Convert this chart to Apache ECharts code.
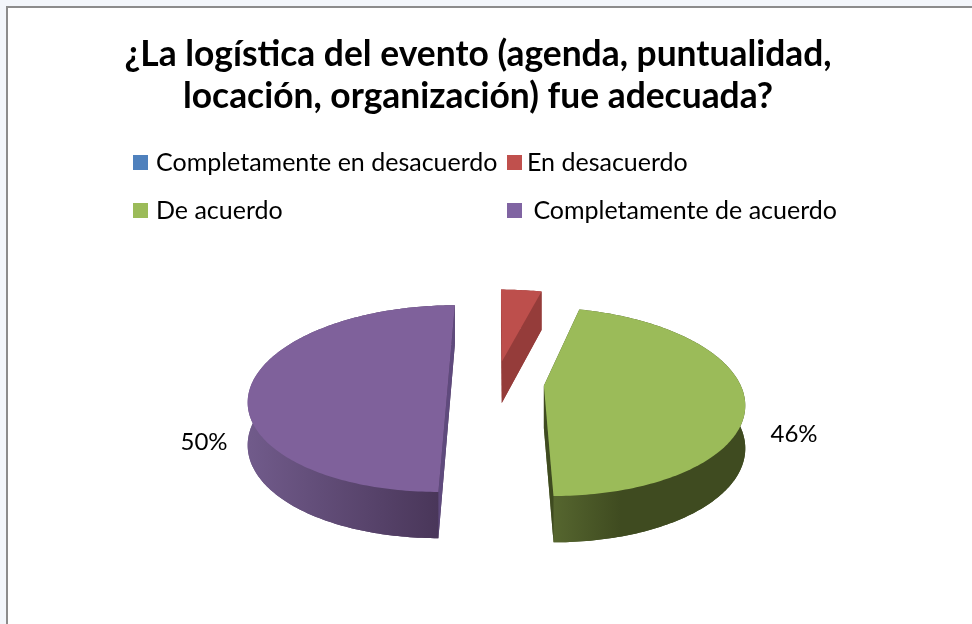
<!DOCTYPE html>
<html>
<head>
<meta charset="utf-8">
<style>
  html, body { margin: 0; padding: 0; background: #f3f6fb; }
  #main { width: 972px; height: 624px; }
</style>
<script src="https://cdn.jsdelivr.net/npm/echarts@6/dist/echarts.min.js"></script>
</head>
<body>
<div id="main"></div>
<script>
const titleText = '¿La logística del evento (agenda, puntualidad,\nlocación, organización) fue adecuada?';
const categories = ['Completamente en desacuerdo', 'En desacuerdo', 'De acuerdo', 'Completamente de acuerdo'];
const values = [0, 4, 46, 50];
const colors = ['#4f81bd', '#c0504d', '#9bbb59', '#8064a2'];
const topColors = ['#4f81bd', '#bd4f4c', '#9bbb59', '#7f619b'];
const sideColors = ['#3a5f8c', '#953c3a', '#3f4b20', '#5f4a7d'];
const wallStops = [
    null,
    [[0, '#953c3a'], [1, '#953c3a']],
    [[0, '#56662f'], [0.35, '#3f4b20'], [1, '#3f4b20']],
    [[0, '#715b8b'], [1, '#493659']]
];
const wallSpan = [null, [500, 545], [553, 746], [247, 440]];

// plano del pastel y perspectiva
const cx = 496, cy = 383, R = 196, tilt = 0.463, persp = 0.167, explode = 48;
const total = values.reduce((a, b) => a + b, 0);

function project(X, Z) {
    const s = 1 / (1 - persp * Z / R);
    const h = 21 + 21 * s;
    return { top: [cx + X * s, cy + tilt * Z * s], low: [cx + X * s, cy + tilt * Z * s + h] };
}

function renderSlice(index) {
    let before = 0;
    for (let i = 0; i < index; i++) before += values[i];
    return function (params, api) {
        const value = api.value(0);
        if (!value) return null;
        const a0 = before / total * 2 * Math.PI;
        const a1 = (before + value) / total * 2 * Math.PI;
        const mid = (a0 + a1) / 2;
        const ox = explode * Math.sin(mid), oz = -explode * Math.cos(mid);
        const rim = [];
        const steps = Math.ceil((a1 - a0) / (Math.PI / 180));
        for (let i = 0; i <= steps; i++) {
            const a = a0 + (a1 - a0) * i / steps;
            rim.push(project(ox + R * Math.sin(a), oz - R * Math.cos(a)));
        }
        const apex = project(ox, oz);
        const span = wallSpan[index];
        const wallFill = new echarts.graphic.LinearGradient(span[0], 0, span[1], 0,
            wallStops[index].map(s => ({ offset: s[0], color: s[1] })), true);
        const first = rim[0], last = rim[rim.length - 1];
        const children = [
            { type: 'polygon', shape: { points: [apex.low].concat(rim.map(p => p.low)) }, style: { fill: wallFill } },
            { type: 'polygon', shape: { points: rim.map(p => p.top).concat(rim.map(p => p.low).reverse()) }, style: { fill: wallFill } },
            { type: 'polygon', shape: { points: [apex.top, first.top, first.low, apex.low] }, style: { fill: sideColors[index] } },
            { type: 'polygon', shape: { points: [apex.top, last.top, last.low, apex.low] }, style: { fill: sideColors[index] } },
            { type: 'polygon', shape: { points: [apex.top].concat(rim.map(p => p.top)) }, style: { fill: topColors[index] } }
        ];
        const at = labelAt[categories[index]];
        if (at) {
            children.push({
                type: 'text', x: at[0], y: at[1],
                style: { text: value + '%', fontFamily: 'Lato', fontSize: 24, fill: '#000', align: 'center', verticalAlign: 'middle' }
            });
        }
        return { type: 'group', children: children };
    };
}

const labelAt = { 'De acuerdo': [794, 434], 'Completamente de acuerdo': [204, 442] };
const legendAt = [[133, 150], [507, 150], [133, 198], [507, 198]];
const legendTextGap = [3, 0, 3, 0];

const chart = echarts.init(document.getElementById('main'));
chart.setOption({
    animation: false,
    title: {
        text: titleText,
        left: 473,
        top: 29,
        textAlign: 'center',
        textStyle: { fontFamily: 'Lato', fontWeight: 'bold', fontSize: 35.4, lineHeight: 42, color: '#000' }
    },
    legend: categories.map((name, i) => ({
        data: [name],
        left: legendAt[i][0],
        top: legendAt[i][1],
        padding: 0,
        itemWidth: 15,
        itemHeight: 15,
        icon: 'rect',
        selectedMode: false,
        formatter: i === 3 ? ' {name}' : '{name}',
        textStyle: { fontFamily: 'Lato', fontSize: 25, color: '#000', padding: [0, 0, 0, legendTextGap[i]] }
    })),
    graphic: [{
        type: 'rect', z: -10,
        shape: { x: 7, y: 7, width: 1000, height: 700 },
        style: { fill: '#fff', stroke: '#8c8c8c', lineWidth: 2 }
    }],
    series: categories.map((name, i) => ({
        name: name,
        type: 'custom',
        coordinateSystem: 'none',
        itemStyle: { color: colors[i] },
        renderItem: renderSlice(i),
        data: [[values[i]]]
    }))
});
</script>
</body>
</html>
